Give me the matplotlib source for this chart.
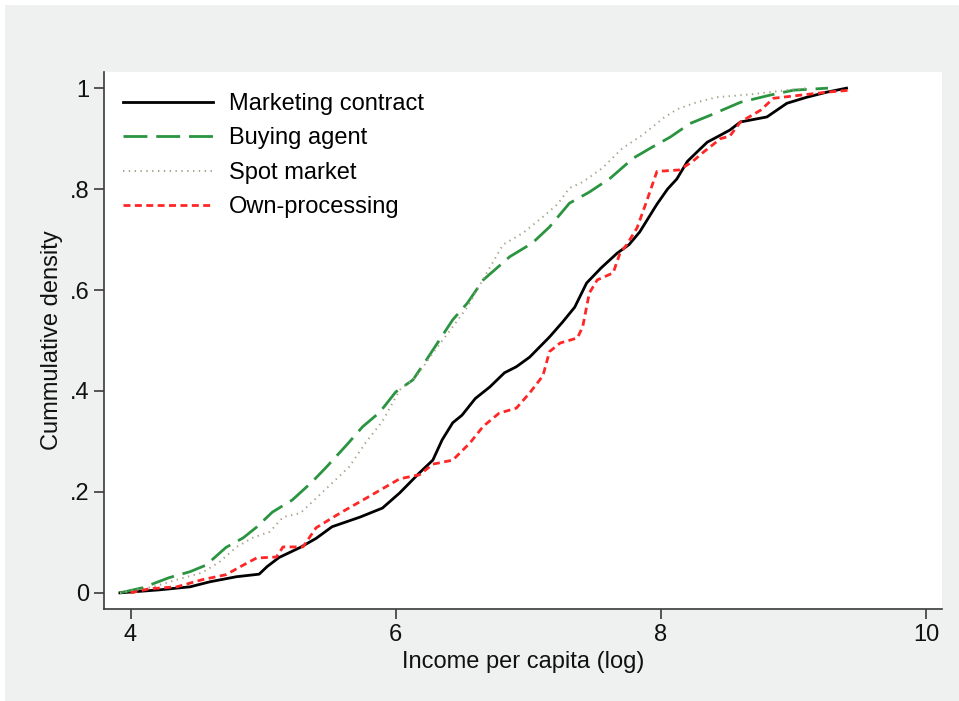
import matplotlib
matplotlib.use("Agg")
import matplotlib.pyplot as plt
from matplotlib.patches import Rectangle

# CDF curves: income per capita (log) vs cumulative share
mc_x = [3.92, 4.02, 4.22, 4.45, 4.6, 4.8, 4.97, 5.03, 5.12, 5.28, 5.4, 5.52, 5.73,
        5.9, 6.03, 6.18, 6.28, 6.35, 6.43, 6.5, 6.6, 6.71, 6.82, 6.91, 7.01, 7.16,
        7.26, 7.35, 7.44, 7.55, 7.67, 7.76, 7.84, 7.97, 8.05, 8.12, 8.2, 8.29, 8.35,
        8.45, 8.52, 8.6, 8.8, 8.95, 9.1, 9.25, 9.4]
mc_y = [0.0, 0.002, 0.006, 0.012, 0.022, 0.032, 0.037, 0.052, 0.07, 0.09, 0.108,
        0.131, 0.15, 0.168, 0.198, 0.238, 0.263, 0.303, 0.337, 0.352, 0.385, 0.408,
        0.436, 0.448, 0.467, 0.507, 0.537, 0.566, 0.614, 0.644, 0.673, 0.69, 0.715,
        0.77, 0.8, 0.82, 0.855, 0.878, 0.893, 0.907, 0.917, 0.933, 0.943, 0.97,
        0.982, 0.992, 1.0]

ba_x = [3.92, 4.09, 4.29, 4.45, 4.57, 4.72, 4.85, 4.95, 5.07, 5.22, 5.37, 5.48,
        5.63, 5.75, 5.88, 6.0, 6.13, 6.23, 6.33, 6.43, 6.54, 6.66, 6.86, 7.03, 7.16,
        7.31, 7.46, 7.62, 7.79, 7.92, 8.07, 8.22, 8.37, 8.52, 8.6, 8.82, 9.0, 9.26]
ba_y = [0.0, 0.01, 0.03, 0.042, 0.055, 0.09, 0.109, 0.13, 0.16, 0.184, 0.22, 0.25,
        0.293, 0.329, 0.358, 0.398, 0.422, 0.461, 0.501, 0.541, 0.574, 0.62, 0.666,
        0.693, 0.725, 0.772, 0.794, 0.822, 0.861, 0.881, 0.903, 0.93, 0.946, 0.963,
        0.972, 0.986, 0.996, 1.0]

sm_x = [3.92, 4.17, 4.35, 4.54, 4.67, 4.8, 4.92, 5.05, 5.15, 5.28, 5.37, 5.49,
        5.65, 5.78, 5.9, 6.03, 6.16, 6.28, 6.41, 6.54, 6.66, 6.81, 6.96, 7.11, 7.22,
        7.31, 7.41, 7.56, 7.71, 7.86, 8.02, 8.12, 8.27, 8.42, 8.69, 8.95, 9.1]
sm_y = [0.0, 0.012, 0.026, 0.04, 0.061, 0.091, 0.109, 0.121, 0.15, 0.158, 0.18,
        0.21, 0.25, 0.3, 0.34, 0.402, 0.43, 0.475, 0.52, 0.566, 0.622, 0.69, 0.713,
        0.745, 0.77, 0.802, 0.814, 0.842, 0.881, 0.907, 0.941, 0.958, 0.972, 0.982,
        0.988, 0.996, 1.0]

op_x = [4.0, 4.14, 4.35, 4.54, 4.72, 4.85, 4.95, 5.1, 5.15, 5.3, 5.4, 5.58, 5.78,
        6.03, 6.18, 6.28, 6.43, 6.56, 6.66, 6.78, 6.91, 7.01, 7.11, 7.16, 7.24, 7.37,
        7.41, 7.46, 7.52, 7.64, 7.69, 7.74, 7.82, 7.89, 7.97, 8.14, 8.24, 8.32, 8.45,
        8.52, 8.6, 8.75, 8.85, 9.05, 9.25, 9.43]
op_y = [0.0, 0.008, 0.012, 0.026, 0.036, 0.055, 0.069, 0.071, 0.091, 0.091, 0.129,
        0.158, 0.188, 0.226, 0.234, 0.255, 0.263, 0.297, 0.33, 0.356, 0.366, 0.396,
        0.43, 0.478, 0.495, 0.505, 0.527, 0.594, 0.62, 0.634, 0.672, 0.689, 0.723,
        0.774, 0.835, 0.838, 0.855, 0.873, 0.9, 0.905, 0.933, 0.956, 0.98, 0.986,
        0.992, 0.996]

labels = ["Marketing contract", "Buying agent", "Spot market", "Own-processing"]
y_ticks = [0, 0.2, 0.4, 0.6, 0.8, 1.0]
y_ticklabels = ["0", ".2", ".4", ".6", ".8", "1"]
x_ticks = [4, 6, 8, 10]

plt.rcParams["font.family"] = ["Liberation Sans", "DejaVu Sans"]
BG = "#eff1f1"
AX = "#3a3a3a"

fig = plt.figure(figsize=(9.59, 7.01), dpi=100, facecolor="white")
fig.patches.append(Rectangle((5 / 959, 0), 1, 1 - 5 / 701, transform=fig.transFigure,
                             facecolor=BG, edgecolor="none", zorder=-10))
ax = fig.add_axes([104 / 959, 1 - 609 / 701, 838 / 959, 537 / 701])
ax.set_facecolor("white")

ax.plot(mc_x, mc_y, color="#000000", lw=2.0, label=labels[0])
ax.plot(ba_x, ba_y, color="#2a9440", lw=2.0, dashes=(8.6, 3.2), label=labels[1])
ax.plot(sm_x, sm_y, color="#a8a28a", lw=1.4, dashes=(0.7, 2.3), label=labels[2])
ax.plot(op_x, op_y, color="#ff2626", lw=2.0, dashes=(2.5, 1.6), label=labels[3])

ax.set_xlim(3.8, 10.12)
ax.set_ylim(-0.032, 1.032)
ax.set_xticks(x_ticks)
ax.set_yticks(y_ticks, y_ticklabels)
for s in ("top", "right"):
    ax.spines[s].set_visible(False)
for s in ("left", "bottom"):
    ax.spines[s].set_color(AX)
    ax.spines[s].set_linewidth(1.2)
ax.tick_params(colors=AX, labelcolor="#111111", labelsize=17, length=7, width=1.2)
ax.set_xlabel("Income per capita (log)", fontsize=17, color="#111111", labelpad=4)
ax.set_ylabel("Cummulative density", fontsize=17, color="#111111", labelpad=5)

ax.legend(loc="upper left", bbox_to_anchor=(0.0227, 0.961), frameon=False,
          fontsize=17, handlelength=3.8, handletextpad=0.68, labelspacing=0.53,
          borderpad=0, borderaxespad=0)

fig.savefig("out.png", dpi=100, facecolor=fig.get_facecolor())
